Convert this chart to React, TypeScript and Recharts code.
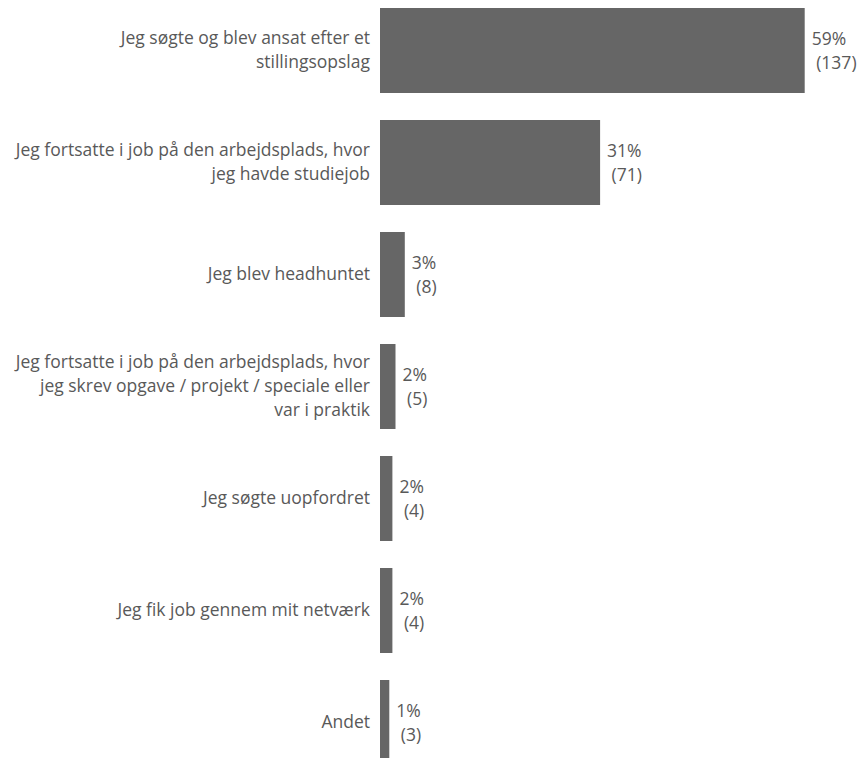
import React from 'react';
import { BarChart, Bar, XAxis, YAxis, LabelList } from 'recharts';

const categories = [
  'Jeg søgte og blev ansat efter et\nstillingsopslag',
  'Jeg fortsatte i job på den arbejdsplads, hvor\njeg havde studiejob',
  'Jeg blev headhuntet',
  'Jeg fortsatte i job på den arbejdsplads, hvor\njeg skrev opgave / projekt / speciale eller\nvar i praktik',
  'Jeg søgte uopfordret',
  'Jeg fik job gennem mit netværk',
  'Andet',
];
const counts = [137, 71, 8, 5, 4, 4, 3];
const percents = [59, 31, 3, 2, 2, 2, 1];

const data = categories.map((name, i) => ({ name, count: counts[i], pct: percents[i] }));

const textColor = '#595959';
const font = '"Open Sans", sans-serif';
const fontSize = 17.5;
const lineGap = 24;

const CategoryTick = (props: any) => {
  const { x, y, payload } = props;
  const lines: string[] = String(payload.value).split('\n');
  const start = y - ((lines.length - 1) * lineGap) / 2;
  return (
    <text x={x} y={start} textAnchor="end" fill={textColor} fontSize={fontSize} fontFamily={font}>
      {lines.map((line, i) => (
        <tspan key={i} x={x} y={start + i * lineGap} dy="0.35em">{line}</tspan>
      ))}
    </text>
  );
};

const ValueLabel = (props: any) => {
  const { x, y, width, height, index } = props;
  const lx = x + width + 7;
  const cy = y + height / 2;
  return (
    <text fill={textColor} fontSize={fontSize} fontFamily={font} textAnchor="start">
      <tspan x={lx} y={cy - lineGap / 2} dy="0.35em">{percents[index]}%</tspan>
      <tspan x={lx + 4.5} y={cy + lineGap / 2} dy="0.35em">({counts[index]})</tspan>
    </text>
  );
};

export default function App() {
  return (
    <div style={{ position: 'absolute', left: 0, top: 0, width: 859, height: 758, overflow: 'hidden', background: '#fff' }}>
      <div style={{ marginTop: -6 }}>
        <BarChart
          width={859}
          height={784}
          data={data}
          layout="vertical"
          margin={{ top: 0, right: 14, bottom: 0, left: 0 }}
        >
          <XAxis type="number" domain={[0, 150]} hide />
          <YAxis
            type="category"
            dataKey="name"
            width={380}
            axisLine={false}
            tickLine={false}
            tickSize={0}
            tickMargin={10}
            tick={<CategoryTick />}
            interval={0}
          />
          <Bar dataKey="count" fill="#666666" barSize={85} isAnimationActive={false}>
            <LabelList dataKey="count" content={<ValueLabel />} />
          </Bar>
        </BarChart>
      </div>
    </div>
  );
}
